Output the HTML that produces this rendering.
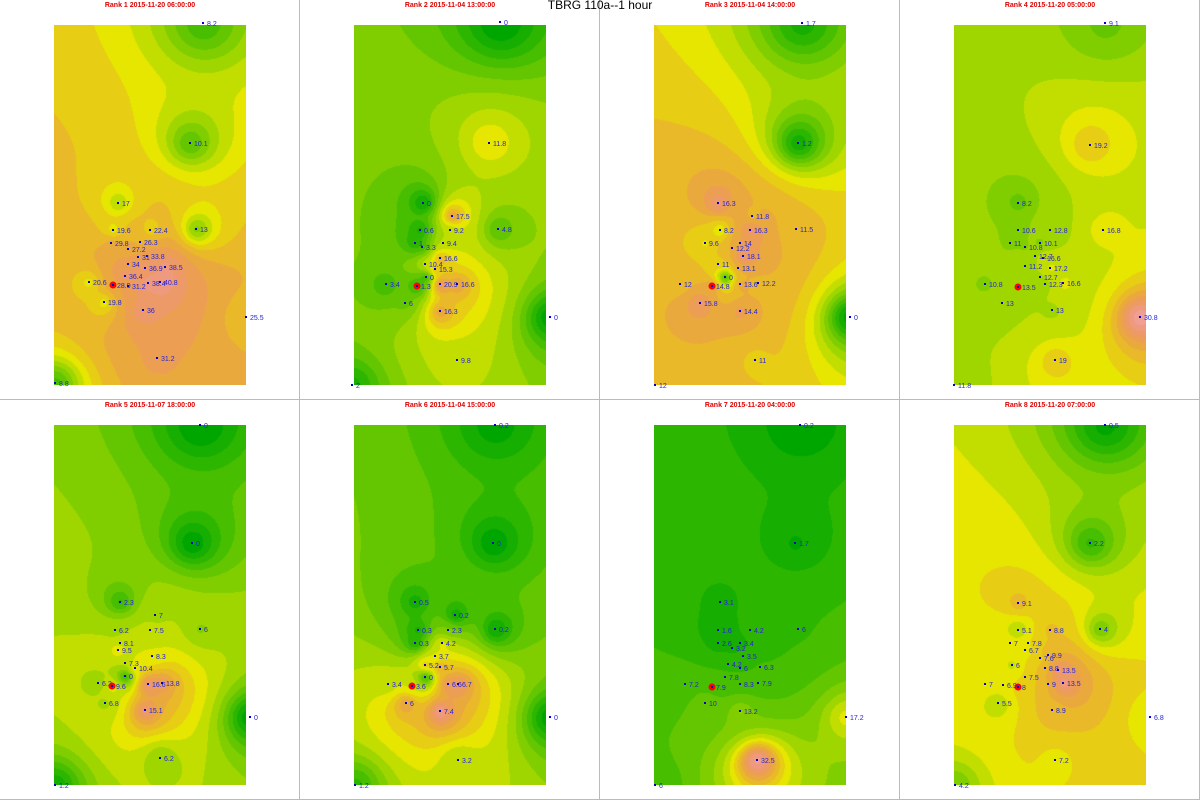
<!DOCTYPE html>
<html><head><meta charset="utf-8">
<style>
body{margin:0;background:#fff;width:1200px;height:800px;overflow:hidden;font-family:"Liberation Sans",sans-serif;position:relative}
.panel{position:absolute;width:299px;height:399px;border-right:1px solid #bbb;border-bottom:1px solid #bbb;}
.ptitle{position:absolute;top:2px;left:0;width:300px;text-align:center;color:#e00000;font-size:7px;font-weight:bold}
canvas{position:absolute;left:54px;top:25px}
svg.ov{position:absolute;left:0;top:0}
#main-title{position:absolute;top:-2px;left:0;width:1200px;text-align:center;font-size:12px;color:#000;z-index:5}
</style></head><body>
<div id="main-title">TBRG 110a--1 hour</div>
<div id="root"></div>
<script>
const panelTitles=["Rank 1 2015-11-20 06:00:00","Rank 2 2015-11-04 13:00:00","Rank 3 2015-11-04 14:00:00","Rank 4 2015-11-20 05:00:00","Rank 5 2015-11-07 18:00:00","Rank 6 2015-11-04 15:00:00","Rank 7 2015-11-20 04:00:00","Rank 8 2015-11-20 07:00:00"];
const stX1=[203,190,118,196,113,150,111,140,128,147,138,128,145,165,125,89,113,128,148,160,104,143,157,246,55];
const stY1=[23,143,203,229,230,230,243,242,249,256,257,264,268,267,276,282,285,286,283,282,302,310,358,317,383];
const stV1=[8.2,10.1,17,13,19.6,22.4,29.8,26.3,27.2,33.8,31,34,36.9,38.5,36.4,20.6,28.9,31.2,38.4,40.8,19.8,36,31.2,25.5,8.8];
const stX2=[200,189,123,152,198,120,150,115,122,143,125,140,135,126,86,117,140,157,105,140,157,250,52];
const stY2=[22,143,203,216,229,230,230,243,247,243,264,258,269,277,284,286,284,284,303,311,360,317,385];
const stV2=[0,11.8,0,17.5,4.8,0.6,9.2,1,3.3,9.4,10.4,16.6,15.3,0,3.4,1.3,20.9,16.6,6,16.3,9.8,0,2];
const stX3=[202,198,118,152,120,150,196,105,140,132,143,138,118,125,80,112,140,158,100,140,155,250,55];
const stY3=[23,143,203,216,230,230,229,243,243,248,256,268,264,277,284,286,284,283,303,311,360,317,385];
const stV3=[1.7,1.2,16.3,11.8,8.2,16.3,11.5,9.6,14,12.2,18.1,13.1,11,0,12,14.8,13.6,12.2,15.8,14.4,11,0,12];
const stX4=[205,190,118,118,150,203,110,125,140,135,143,125,150,140,85,118,145,163,102,152,155,240,54];
const stY4=[23,145,203,230,230,230,243,247,243,256,258,266,268,277,284,287,284,283,303,310,360,317,385];
const stV4=[9.1,19.2,8.2,10.6,12.8,16.8,11,10.8,10.1,12.7,16.6,11.2,17.2,12.7,10.8,13.5,12.3,16.6,13,13,19,30.8,11.8];
const stX5=[200,192,120,155,200,115,150,120,118,152,125,135,125,98,112,148,162,105,145,160,250,55];
const stY5=[25,143,202,215,229,230,230,243,250,256,263,268,276,283,286,284,283,303,310,358,317,385];
const stV5=[0,0,2.3,7,6,6.2,7.5,8.1,9.5,8.3,7.3,10.4,0,6.2,9.6,16.6,13.8,6.8,15.1,6.2,0,1.2];
const stX6=[195,193,115,155,195,118,148,115,142,135,125,140,125,88,112,148,158,106,140,158,250,55];
const stY6=[25,143,202,215,229,230,230,243,243,256,265,267,277,284,286,284,284,303,311,360,317,385];
const stV6=[0.2,0,0.5,0.2,0.2,0.3,2.3,0.3,4.2,3.7,5.2,5.7,0,3.4,3.6,6.6,6.7,6,7.4,3.2,0,1.2];
const stX7=[200,195,120,198,118,150,118,140,132,143,128,140,160,125,85,112,140,158,105,140,157,246,55];
const stY7=[25,143,202,229,230,230,243,243,248,256,264,268,267,277,284,287,284,283,303,311,360,317,385];
const stV7=[0.2,1.7,3.1,6,1.6,4.2,2.6,3.4,3.2,3.5,4.2,6,6.3,7.8,7.2,7.9,8.3,7.9,10,13.2,32.5,17.2,6];
const stX8=[205,190,118,200,118,150,110,128,125,148,112,140,145,158,125,85,118,103,148,163,98,152,155,250,55];
const stY8=[25,143,203,229,230,230,243,243,250,255,265,258,268,270,277,284,287,285,284,283,303,310,360,317,385];
const stV8=[0.5,2.2,9.1,4,5.1,8.8,7,7.8,6.7,9.9,6,7.6,8.8,13.5,7.5,7,8,6.9,9,13.5,5.5,8.9,7.2,6.8,4.2];
const redIdx=[16,15,15,15,14,14,15,16];
const allX=[stX1,stX2,stX3,stX4,stX5,stX6,stX7,stX8];
const allY=[stY1,stY2,stY3,stY4,stY5,stY6,stY7,stY8];
const allV=[stV1,stV2,stV3,stV4,stV5,stV6,stV7,stV8];

function hsv(h,s,v){const i=Math.floor(h*6),f=h*6-i,p=v*(1-s),q=v*(1-f*s),t=v*(1-(1-f)*s);let r,g,b;switch(i%6){case 0:r=v;g=t;b=p;break;case 1:r=q;g=v;b=p;break;case 2:r=p;g=v;b=t;break;case 3:r=p;g=q;b=v;break;case 4:r=t;g=p;b=v;break;default:r=v;g=p;b=q;}return[r*255,g*255,b*255];}
function terrain(t){t=Math.max(0,Math.min(1,t));
 if(t<0.5){const u=t/0.5;return hsv((4-2*u)/12,1,0.65+0.25*u);}
 const u=(t-0.5)/0.5;return hsv(2/12*(1-u),1-u*0.7,0.9+0.05*u);}
const PW=192,PH=360,OX=54,OY=25,NL=16;
const root=document.getElementById('root');
for(let p=0;p<8;p++){
 const px=(p%4)*300,py=Math.floor(p/4)*400;
 const d=document.createElement('div');d.className='panel';d.style.left=px+'px';d.style.top=py+'px';
 
 
 const tt=document.createElement('div');tt.className='ptitle';tt.textContent=panelTitles[p];
 
 
 d.appendChild(tt);
 const cv=document.createElement('canvas');cv.width=PW;cv.height=PH;
 
 
 d.appendChild(cv);
 const X=allX[p],Y=allY[p],V=allV[p];const vmax=Math.max(...V)||1;
 const ctx=cv.getContext('2d');const img=ctx.createImageData(PW,PH);
 for(let j=0;j<PH;j++)for(let i=0;i<PW;i++){
  let sw=0,sv=0,hit=-1;const gx=i+OX,gy=j+OY;
  for(let k=0;k<V.length;k++){const dx=gx-X[k],dy=gy-Y[k];const dd=dx*dx+dy*dy;if(dd<1){hit=k;break;}const w=1/(dd+30);sw+=w;sv+=w*V[k];}
  const val=hit>=0?V[hit]:sv/sw;
  const t=Math.floor(val/vmax*NL)/NL;
  const c=terrain(t);const o=(j*PW+i)*4;img.data[o]=c[0];img.data[o+1]=c[1];img.data[o+2]=c[2];img.data[o+3]=255;}
 ctx.putImageData(img,0,0);
 const ns='http://www.w3.org/2000/svg';const sv=document.createElementNS(ns,'svg');
 sv.setAttribute('class','ov');sv.setAttribute('width',300);sv.setAttribute('height',400);
 for(let k=0;k<V.length;k++){
  const dot=document.createElementNS(ns,'rect');
  const isRed=k===redIdx[p];
  if(isRed){const c=document.createElementNS(ns,'circle');c.setAttribute('cx',X[k]);c.setAttribute('cy',Y[k]);c.setAttribute('r',3.5);c.setAttribute('fill','#ff0000');
   
   
   sv.appendChild(c);}
  dot.setAttribute('x',X[k]-1);dot.setAttribute('y',Y[k]-1);dot.setAttribute('width',2);dot.setAttribute('height',2);dot.setAttribute('fill','#0000cc');
  
  
  sv.appendChild(dot);
  const tx=document.createElementNS(ns,'text');tx.setAttribute('x',X[k]+4);tx.setAttribute('y',Y[k]+3);
  tx.setAttribute('font-size','7');tx.setAttribute('fill','#2222dd');tx.setAttribute('font-family','Liberation Sans, sans-serif');
  tx.textContent=V[k];
  
  
  sv.appendChild(tx);}
 d.appendChild(sv);root.appendChild(d);}
</script>
</body></html>
